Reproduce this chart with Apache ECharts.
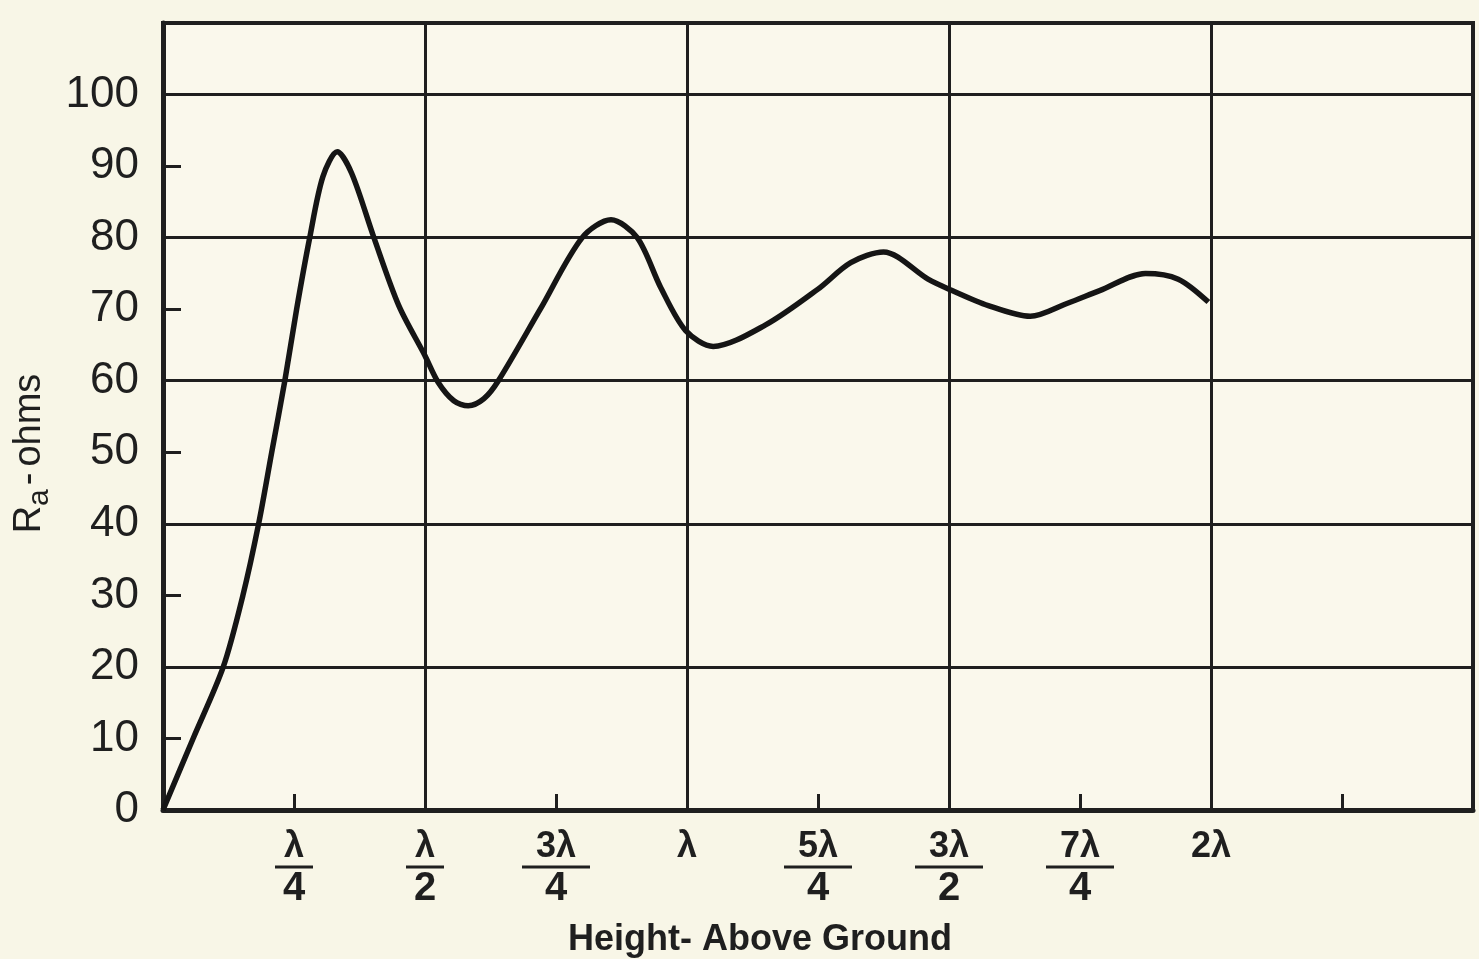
<!DOCTYPE html>
<html>
<head>
<meta charset="utf-8">
<script src="https://cdn.jsdelivr.net/npm/echarts@6/dist/echarts.min.js"></script>
<style>
  html, body { margin: 0; padding: 0; background: #f8f6e7; }
  #chart { width: 1479px; height: 959px; }
</style>
</head>
<body>
<div id="chart"></div>
<script>
// Height above ground, in quarter-wavelength units (λ/4)
const heightQuarterWaves = [0, 0.23, 0.46, 0.61, 0.73, 0.83, 0.93, 1.02, 1.12, 1.22, 1.33, 1.44, 1.61, 1.8, 2.0, 2.1, 2.22, 2.33, 2.45, 2.56, 2.88, 3.2, 3.42, 3.62, 3.8, 3.99, 4.2, 4.6, 5.0, 5.25, 5.5, 5.84, 6.0, 6.3, 6.62, 6.9, 7.15, 7.5, 7.75, 7.98];
// Radiation resistance Ra in ohms
const resistanceOhms = [0, 10, 20, 30, 40, 50, 60, 70, 80, 88.5, 92, 89, 80, 70.5, 63.5, 59.8, 57.2, 56.5, 57.5, 60, 70, 80, 82.5, 80, 73, 67, 64.8, 67.8, 72.8, 76.5, 78, 74.2, 72.8, 70.5, 69, 70.8, 72.6, 75, 74.2, 71];
// x tick labels at every λ/4, from 0 to 10
const xTickLabels = ['', 'λ/4', 'λ/2', '3λ/4', 'λ', '5λ/4', '3λ/2', '7λ/4', '2λ', '', ''];
const yTickLabels = ['0', '10', '20', '30', '40', '50', '60', '70', '80', '90', '100', ''];

const ink = '#1f1f1f';
const font = 'Liberation Sans';

const seriesData = heightQuarterWaves.map((x, i) => [x, resistanceOhms[i]]);

const chart = echarts.init(document.getElementById('chart'));
chart.setOption({
  backgroundColor: '#f8f6e7',
  animation: false,
  grid: {
    left: 163, right: 6, top: 23, bottom: 149,
    outerBoundsMode: 'none', containLabel: false,
    show: true, borderColor: ink, borderWidth: 4, backgroundColor: '#faf8ec'
  },
  xAxis: [{
    type: 'value', min: 0, max: 10, interval: 1,
    name: 'Height- Above Ground',
    nameLocation: 'middle', nameGap: 112,
    nameTextStyle: { fontFamily: font, fontSize: 36, fontWeight: 'bold', color: ink, padding: [0, 116, 0, 0] },
    axisLine: { show: true, onZero: false, lineStyle: { color: ink, width: 5 } },
    axisTick: { show: true, inside: true, length: 16, lineStyle: { color: ink, width: 3 } },
    splitLine: { show: false },
    axisLabel: {
      margin: 20, color: ink, fontFamily: font,
      formatter: function (v) {
        const t = xTickLabels[Math.round(v)] || '';
        if (!t) return '';
        if (t.indexOf('/') >= 0) {
          const parts = t.split('/');
          const barStyle = parts[0].length > 1 ? 'barL' : 'barS';
          return '{num|' + parts[0] + '}\n{' + barStyle + '|}\n{den|' + parts[1] + '}';
        }
        return '{num|' + t + '}';
      },
      rich: {
        num: { fontFamily: font, fontSize: 36, lineHeight: 34, color: ink, fontWeight: 'bold', align: 'center' },
        barS: { width: 38, height: 3, backgroundColor: ink, lineHeight: 6, align: 'center' },
        barL: { width: 68, height: 3, backgroundColor: ink, lineHeight: 6, align: 'center' },
        den: { fontFamily: font, fontSize: 40, lineHeight: 38, color: ink, fontWeight: 'bold', align: 'center' }
      }
    }
  }, {
    type: 'value', min: 0, max: 10, interval: 2, position: 'bottom',
    axisLine: { show: false }, axisTick: { show: false }, axisLabel: { show: false },
    splitLine: { show: true, lineStyle: { color: ink, width: 3 } }
  }],
  yAxis: [{
    type: 'value', min: 0, max: 110, interval: 10,
    name: '{r|R}{s|a}{h|-}{r|ohms}',
    nameLocation: 'middle', nameRotate: 90, nameGap: 104,
    nameTextStyle: {
      padding: [0, 74, 0, 0],
      rich: {
        r: { fontFamily: font, fontSize: 38, color: ink, lineHeight: 50, verticalAlign: 'middle' },
        h: { fontFamily: font, fontSize: 38, color: ink, lineHeight: 50, verticalAlign: 'middle', padding: [0, 6, 0, 4] },
        s: { fontFamily: font, fontSize: 30, color: ink, lineHeight: 50, verticalAlign: 'bottom', padding: [16, 0, 0, 0] }
      }
    },
    axisLine: { show: true, onZero: false, lineStyle: { color: ink, width: 5 } },
    axisTick: { show: true, inside: true, length: 18, lineStyle: { color: ink, width: 3 } },
    splitLine: { show: false },
    axisLabel: {
      margin: 24, color: ink, fontFamily: font, fontSize: 44,
      formatter: function (v) { return yTickLabels[Math.round(v / 10)] || ''; }
    }
  }, {
    type: 'value', min: 0, max: 110, interval: 20, position: 'left',
    axisLine: { show: false }, axisTick: { show: false }, axisLabel: { show: false },
    splitLine: { show: true, lineStyle: { color: ink, width: 3 } }
  }],
  series: [{
    type: 'line', xAxisIndex: 0, yAxisIndex: 0,
    data: seriesData, smooth: 0.3, showSymbol: false,
    lineStyle: { color: '#151515', width: 5.5 }
  }]
});
</script>
</body>
</html>
